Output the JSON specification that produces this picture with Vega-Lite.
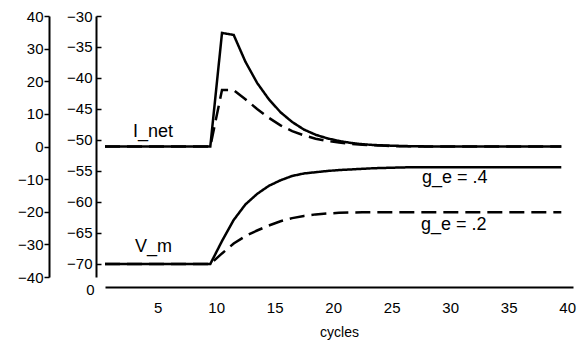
{
  "$schema": "https://vega.github.io/schema/vega-lite/v6.json",
  "width": 468,
  "height": 261,
  "autosize": "none",
  "padding": {"left": 105, "top": 16, "right": 5, "bottom": 63},
  "config": {
    "view": {"stroke": null},
    "font": "Liberation Sans",
    "axis": {
      "grid": false,
      "labelFont": "Liberation Sans",
      "labelFontSize": 15,
      "labelColor": "black",
      "labelOverlap": false,
      "labelBound": false,
      "domainColor": "black",
      "domainWidth": 2,
      "tickColor": "black",
      "tickWidth": 1.5,
      "titleFont": "Liberation Sans",
      "titleFontSize": 14,
      "titleFontWeight": "normal",
      "titleColor": "black"
    }
  },
  "datasets": {
    "inet": [
      {"cycle": 0.5, "value": 0, "g": ".4"}, {"cycle": 1.5, "value": 0, "g": ".4"}, {"cycle": 2.5, "value": 0, "g": ".4"}, {"cycle": 3.5, "value": 0, "g": ".4"}, {"cycle": 4.5, "value": 0, "g": ".4"},
      {"cycle": 5.5, "value": 0, "g": ".4"}, {"cycle": 6.5, "value": 0, "g": ".4"}, {"cycle": 7.5, "value": 0, "g": ".4"}, {"cycle": 8.5, "value": 0, "g": ".4"}, {"cycle": 9.5, "value": 0, "g": ".4"},
      {"cycle": 10.5, "value": 34.8, "g": ".4"}, {"cycle": 11.5, "value": 34.2, "g": ".4"}, {"cycle": 12.5, "value": 26.0, "g": ".4"}, {"cycle": 13.5, "value": 19.5, "g": ".4"}, {"cycle": 14.5, "value": 14.5, "g": ".4"},
      {"cycle": 15.5, "value": 10.5, "g": ".4"}, {"cycle": 16.5, "value": 7.5, "g": ".4"}, {"cycle": 17.5, "value": 5.2, "g": ".4"}, {"cycle": 18.5, "value": 3.6, "g": ".4"}, {"cycle": 19.5, "value": 2.5, "g": ".4"},
      {"cycle": 20.5, "value": 1.7, "g": ".4"}, {"cycle": 21.5, "value": 1.1, "g": ".4"}, {"cycle": 22.5, "value": 0.7, "g": ".4"}, {"cycle": 23.5, "value": 0.45, "g": ".4"}, {"cycle": 24.5, "value": 0.3, "g": ".4"},
      {"cycle": 25.5, "value": 0.2, "g": ".4"}, {"cycle": 26.5, "value": 0.1, "g": ".4"}, {"cycle": 27.5, "value": 0.05, "g": ".4"}, {"cycle": 28.5, "value": 0, "g": ".4"}, {"cycle": 29.5, "value": 0, "g": ".4"},
      {"cycle": 30.5, "value": 0, "g": ".4"}, {"cycle": 31.5, "value": 0, "g": ".4"}, {"cycle": 32.5, "value": 0, "g": ".4"}, {"cycle": 33.5, "value": 0, "g": ".4"}, {"cycle": 34.5, "value": 0, "g": ".4"},
      {"cycle": 35.5, "value": 0, "g": ".4"}, {"cycle": 36.5, "value": 0, "g": ".4"}, {"cycle": 37.5, "value": 0, "g": ".4"}, {"cycle": 38.5, "value": 0, "g": ".4"}, {"cycle": 39.5, "value": 0, "g": ".4"},
      {"cycle": 0.5, "value": 0, "g": ".2"}, {"cycle": 1.5, "value": 0, "g": ".2"}, {"cycle": 2.5, "value": 0, "g": ".2"}, {"cycle": 3.5, "value": 0, "g": ".2"}, {"cycle": 4.5, "value": 0, "g": ".2"},
      {"cycle": 5.5, "value": 0, "g": ".2"}, {"cycle": 6.5, "value": 0, "g": ".2"}, {"cycle": 7.5, "value": 0, "g": ".2"}, {"cycle": 8.5, "value": 0, "g": ".2"}, {"cycle": 9.5, "value": 0, "g": ".2"},
      {"cycle": 10.5, "value": 17.3, "g": ".2"}, {"cycle": 11.5, "value": 17.3, "g": ".2"}, {"cycle": 12.5, "value": 14.5, "g": ".2"}, {"cycle": 13.5, "value": 11.5, "g": ".2"}, {"cycle": 14.5, "value": 8.8, "g": ".2"},
      {"cycle": 15.5, "value": 6.5, "g": ".2"}, {"cycle": 16.5, "value": 4.7, "g": ".2"}, {"cycle": 17.5, "value": 3.4, "g": ".2"}, {"cycle": 18.5, "value": 2.4, "g": ".2"}, {"cycle": 19.5, "value": 1.7, "g": ".2"},
      {"cycle": 20.5, "value": 1.2, "g": ".2"}, {"cycle": 21.5, "value": 0.8, "g": ".2"}, {"cycle": 22.5, "value": 0.5, "g": ".2"}, {"cycle": 23.5, "value": 0.35, "g": ".2"}, {"cycle": 24.5, "value": 0.2, "g": ".2"},
      {"cycle": 25.5, "value": 0.1, "g": ".2"}, {"cycle": 26.5, "value": 0.05, "g": ".2"}, {"cycle": 27.5, "value": 0, "g": ".2"}, {"cycle": 28.5, "value": 0, "g": ".2"}, {"cycle": 29.5, "value": 0, "g": ".2"},
      {"cycle": 30.5, "value": 0, "g": ".2"}, {"cycle": 31.5, "value": 0, "g": ".2"}, {"cycle": 32.5, "value": 0, "g": ".2"}, {"cycle": 33.5, "value": 0, "g": ".2"}, {"cycle": 34.5, "value": 0, "g": ".2"},
      {"cycle": 35.5, "value": 0, "g": ".2"}, {"cycle": 36.5, "value": 0, "g": ".2"}, {"cycle": 37.5, "value": 0, "g": ".2"}, {"cycle": 38.5, "value": 0, "g": ".2"}, {"cycle": 39.5, "value": 0, "g": ".2"}
    ],
    "vm": [
      {"cycle": 0.5, "value": -70, "g": ".4"}, {"cycle": 1.5, "value": -70, "g": ".4"}, {"cycle": 2.5, "value": -70, "g": ".4"}, {"cycle": 3.5, "value": -70, "g": ".4"}, {"cycle": 4.5, "value": -70, "g": ".4"},
      {"cycle": 5.5, "value": -70, "g": ".4"}, {"cycle": 6.5, "value": -70, "g": ".4"}, {"cycle": 7.5, "value": -70, "g": ".4"}, {"cycle": 8.5, "value": -70, "g": ".4"}, {"cycle": 9.5, "value": -70, "g": ".4"},
      {"cycle": 10.5, "value": -66.3, "g": ".4"}, {"cycle": 11.5, "value": -62.9, "g": ".4"}, {"cycle": 12.5, "value": -60.4, "g": ".4"}, {"cycle": 13.5, "value": -58.7, "g": ".4"}, {"cycle": 14.5, "value": -57.4, "g": ".4"},
      {"cycle": 15.5, "value": -56.5, "g": ".4"}, {"cycle": 16.5, "value": -55.8, "g": ".4"}, {"cycle": 17.5, "value": -55.4, "g": ".4"}, {"cycle": 18.5, "value": -55.2, "g": ".4"}, {"cycle": 19.5, "value": -55.0, "g": ".4"},
      {"cycle": 20.5, "value": -54.85, "g": ".4"}, {"cycle": 21.5, "value": -54.75, "g": ".4"}, {"cycle": 22.5, "value": -54.65, "g": ".4"}, {"cycle": 23.5, "value": -54.55, "g": ".4"}, {"cycle": 24.5, "value": -54.5, "g": ".4"},
      {"cycle": 25.5, "value": -54.45, "g": ".4"}, {"cycle": 26.5, "value": -54.4, "g": ".4"}, {"cycle": 27.5, "value": -54.4, "g": ".4"}, {"cycle": 28.5, "value": -54.4, "g": ".4"}, {"cycle": 29.5, "value": -54.4, "g": ".4"},
      {"cycle": 30.5, "value": -54.4, "g": ".4"}, {"cycle": 31.5, "value": -54.4, "g": ".4"}, {"cycle": 32.5, "value": -54.4, "g": ".4"}, {"cycle": 33.5, "value": -54.4, "g": ".4"}, {"cycle": 34.5, "value": -54.4, "g": ".4"},
      {"cycle": 35.5, "value": -54.4, "g": ".4"}, {"cycle": 36.5, "value": -54.4, "g": ".4"}, {"cycle": 37.5, "value": -54.4, "g": ".4"}, {"cycle": 38.5, "value": -54.4, "g": ".4"}, {"cycle": 39.5, "value": -54.4, "g": ".4"},
      {"cycle": 0.5, "value": -70, "g": ".2"}, {"cycle": 1.5, "value": -70, "g": ".2"}, {"cycle": 2.5, "value": -70, "g": ".2"}, {"cycle": 3.5, "value": -70, "g": ".2"}, {"cycle": 4.5, "value": -70, "g": ".2"},
      {"cycle": 5.5, "value": -70, "g": ".2"}, {"cycle": 6.5, "value": -70, "g": ".2"}, {"cycle": 7.5, "value": -70, "g": ".2"}, {"cycle": 8.5, "value": -70, "g": ".2"}, {"cycle": 9.5, "value": -70, "g": ".2"},
      {"cycle": 10.5, "value": -68.3, "g": ".2"}, {"cycle": 11.5, "value": -66.7, "g": ".2"}, {"cycle": 12.5, "value": -65.5, "g": ".2"}, {"cycle": 13.5, "value": -64.6, "g": ".2"}, {"cycle": 14.5, "value": -63.8, "g": ".2"},
      {"cycle": 15.5, "value": -63.1, "g": ".2"}, {"cycle": 16.5, "value": -62.6, "g": ".2"}, {"cycle": 17.5, "value": -62.25, "g": ".2"}, {"cycle": 18.5, "value": -62.0, "g": ".2"}, {"cycle": 19.5, "value": -61.85, "g": ".2"},
      {"cycle": 20.5, "value": -61.75, "g": ".2"}, {"cycle": 21.5, "value": -61.7, "g": ".2"}, {"cycle": 22.5, "value": -61.67, "g": ".2"}, {"cycle": 23.5, "value": -61.65, "g": ".2"}, {"cycle": 24.5, "value": -61.65, "g": ".2"},
      {"cycle": 25.5, "value": -61.65, "g": ".2"}, {"cycle": 26.5, "value": -61.65, "g": ".2"}, {"cycle": 27.5, "value": -61.65, "g": ".2"}, {"cycle": 28.5, "value": -61.65, "g": ".2"}, {"cycle": 29.5, "value": -61.65, "g": ".2"},
      {"cycle": 30.5, "value": -61.65, "g": ".2"}, {"cycle": 31.5, "value": -61.65, "g": ".2"}, {"cycle": 32.5, "value": -61.65, "g": ".2"}, {"cycle": 33.5, "value": -61.65, "g": ".2"}, {"cycle": 34.5, "value": -61.65, "g": ".2"},
      {"cycle": 35.5, "value": -61.65, "g": ".2"}, {"cycle": 36.5, "value": -61.65, "g": ".2"}, {"cycle": 37.5, "value": -61.65, "g": ".2"}, {"cycle": 38.5, "value": -61.65, "g": ".2"}, {"cycle": 39.5, "value": -61.65, "g": ".2"}
    ],
    "inetLabel": [{"cycle": 2.9, "value": 2.8, "label": "I_net"}],
    "vmLabels": [
      {"cycle": 3.06, "value": -68.0, "label": "V_m"},
      {"cycle": 27.6, "value": -57.0, "label": "g_e = .4"},
      {"cycle": 27.5, "value": -64.5, "label": "g_e = .2"}
    ],
    "zero": [{"cycle": 0.5, "value": 0}]
  },
  "encoding": {
    "x": {
      "field": "cycle",
      "type": "quantitative",
      "scale": {"domain": [0.5, 40.5], "nice": false, "zero": false},
      "axis": {
        "values": [5, 10, 15, 20, 25, 30, 35, 40],
        "ticks": false,
        "offset": 10,
        "labelPadding": 13,
        "labelFlush": false,
        "title": "cycles",
        "titlePadding": 10
      }
    }
  },
  "layer": [
    {
      "data": {"name": "inet"},
      "mark": {"type": "line", "color": "black", "strokeWidth": 2.5},
      "encoding": {
        "y": {
          "field": "value",
          "type": "quantitative",
          "scale": {"domain": [-40, 40], "nice": false, "zero": false},
          "axis": {
            "orient": "left",
            "offset": 56,
            "values": [-40, -30, -20, -10, 0, 10, 20, 30, 40],
            "tickSize": 5,
            "labelPadding": 1,
            "labelAlign": "right",
            "labelBaseline": "middle",
            "title": null
          }
        },
        "strokeDash": {
          "field": "g",
          "type": "nominal",
          "scale": {"domain": [".4", ".2"], "range": [[1, 0], [15, 7]]},
          "legend": null
        }
      }
    },
    {
      "data": {"name": "inetLabel"},
      "mark": {"type": "text", "align": "left", "baseline": "alphabetic", "fontSize": 18, "color": "black"},
      "encoding": {
        "y": {"field": "value", "type": "quantitative", "scale": {"domain": [-40, 40], "nice": false, "zero": false}, "axis": null},
        "text": {"field": "label"}
      }
    },
    {
      "data": {"name": "vm"},
      "mark": {"type": "line", "color": "black", "strokeWidth": 2.5},
      "encoding": {
        "y": {
          "field": "value",
          "type": "quantitative",
          "scale": {"domain": [-72.1, -30], "nice": false, "zero": false},
          "axis": {
            "orient": "left",
            "offset": 9,
            "values": [-70, -65, -60, -55, -50, -45, -40, -35, -30],
            "tickSize": -5,
            "labelPadding": 9,
            "labelAlign": "right",
            "labelBaseline": "middle",
            "title": null
          }
        },
        "strokeDash": {
          "field": "g",
          "type": "nominal",
          "scale": {"domain": [".4", ".2"], "range": [[1, 0], [15, 7]]},
          "legend": null
        }
      }
    },
    {
      "data": {"name": "vmLabels"},
      "mark": {"type": "text", "align": "left", "baseline": "alphabetic", "fontSize": 18, "color": "black"},
      "encoding": {
        "y": {"field": "value", "type": "quantitative", "scale": {"domain": [-72.1, -30], "nice": false, "zero": false}, "axis": null},
        "text": {"field": "label"}
      }
    },
    {
      "data": {"name": "zero"},
      "mark": {"type": "point", "opacity": 0},
      "encoding": {
        "y": {
          "field": "value",
          "type": "quantitative",
          "scale": {"domain": [0, 1], "nice": false},
          "axis": {
            "orient": "left",
            "offset": 9,
            "values": [0],
            "ticks": false,
            "domain": false,
            "labelOffset": 12,
            "labelPadding": 2,
            "labelAlign": "right",
            "title": null
          }
        }
      }
    }
  ],
  "resolve": {"scale": {"y": "independent"}, "axis": {"y": "independent"}}
}
